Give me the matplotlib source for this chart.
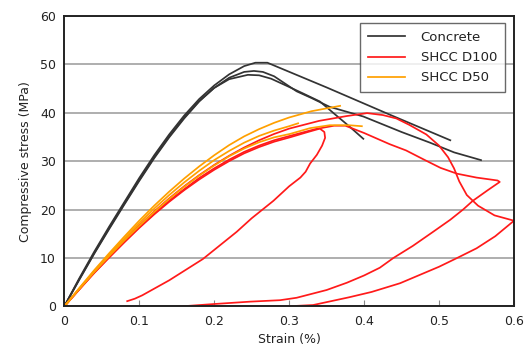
import matplotlib
matplotlib.use("Agg")
import matplotlib.pyplot as plt

# ---------------- data ----------------
conc1_x = [0, 0.02, 0.04, 0.06, 0.08, 0.1, 0.12, 0.14, 0.16, 0.18, 0.2, 0.22, 0.24, 0.255, 0.271, 0.35, 0.434, 0.515]
conc1_y = [0, 5.8, 11.3, 16.5, 21.5, 26.5, 31.2, 35.5, 39.4, 42.8, 45.6, 47.9, 49.6, 50.3, 50.3, 45.2, 39.6, 34.3]
conc2_x = [0, 0.02, 0.04, 0.06, 0.08, 0.1, 0.12, 0.14, 0.16, 0.18, 0.2, 0.22, 0.24, 0.253, 0.265, 0.28, 0.31, 0.33,
           0.354, 0.399, 0.45, 0.488, 0.52, 0.556]
conc2_y = [0, 5.5, 10.9, 16.0, 21.0, 25.9, 30.6, 34.9, 38.8, 42.3, 45.1, 47.2, 48.4, 48.6, 48.4, 47.5, 44.4, 43.0,
           41.2, 39.2, 36.0, 33.8, 31.8, 30.2]
conc3_x = [0, 0.02, 0.04, 0.06, 0.08, 0.1, 0.12, 0.14, 0.16, 0.18, 0.2, 0.22, 0.245, 0.26, 0.276, 0.3, 0.318, 0.341,
           0.36, 0.38, 0.399]
conc3_y = [0, 5.6, 11.0, 16.2, 21.2, 26.1, 30.8, 35.1, 39.0, 42.4, 45.1, 46.9, 47.8, 47.7, 47.0, 45.3, 44.0, 42.3,
           39.8, 37.2, 34.6]

d100a_x = [0, 0.02, 0.04, 0.06, 0.08, 0.1, 0.12, 0.14, 0.16, 0.18, 0.2, 0.22, 0.24, 0.26, 0.28, 0.301, 0.325, 0.341,
           0.347, 0.348, 0.344, 0.337, 0.328, 0.322, 0.315, 0.3, 0.279, 0.25, 0.23, 0.185, 0.14, 0.104, 0.094, 0.084]
d100a_y = [0, 3.5, 6.9, 10.1, 13.2, 16.2, 19.0, 21.6, 24.0, 26.2, 28.2, 30.0, 31.6, 32.9, 34.0, 34.9, 36.0, 36.7,
           36.0, 34.8, 33.2, 31.3, 29.5, 27.8, 26.6, 24.8, 21.8, 18.2, 15.4, 9.8, 5.4, 2.3, 1.6, 1.1]
d100b_x = [0, 0.02, 0.04, 0.06, 0.08, 0.1, 0.12, 0.14, 0.16, 0.18, 0.2, 0.22, 0.24, 0.26, 0.28, 0.3, 0.34, 0.377,
           0.404, 0.425, 0.443, 0.46, 0.483, 0.5, 0.512, 0.52, 0.527, 0.537, 0.552, 0.574, 0.6,
           0.575, 0.55, 0.524, 0.5, 0.448, 0.41, 0.38, 0.359, 0.332, 0.3, 0.27]
d100b_y = [0, 3.6, 7.1, 10.4, 13.6, 16.7, 19.6, 22.3, 24.8, 27.1, 29.2, 31.1, 32.8, 34.3, 35.6, 36.7, 38.3, 39.3,
           39.9, 39.5, 38.8, 37.5, 35.5, 33.2, 30.8, 28.5, 25.8, 23.0, 20.8, 18.8, 17.7,
           14.5, 12.0, 10.0, 8.2, 4.8, 3.0, 1.9, 1.2, 0.3, 0.05, 0]
d100c_x = [0, 0.02, 0.04, 0.06, 0.08, 0.1, 0.12, 0.14, 0.16, 0.18, 0.2, 0.22, 0.24, 0.26, 0.28, 0.301, 0.335, 0.36,
           0.375, 0.4, 0.434, 0.456, 0.48, 0.502, 0.524, 0.55, 0.578, 0.581, 0.565, 0.545, 0.532, 0.515, 0.492, 0.465,
           0.439, 0.421, 0.4, 0.377, 0.35, 0.31, 0.288, 0.248, 0.199, 0.163, 0.15]
d100c_y = [0, 3.5, 7.0, 10.2, 13.4, 16.4, 19.2, 21.8, 24.2, 26.5, 28.5, 30.3, 31.9, 33.2, 34.3, 35.2, 36.6, 37.3,
           37.3, 35.8, 33.5, 32.2, 30.3, 28.6, 27.4, 26.6, 26.0, 25.7, 24.0, 21.8, 20.0, 17.9, 15.4, 12.5,
           10.0, 8.0, 6.4, 4.9, 3.4, 1.8, 1.3, 1.0, 0.5, 0.1, 0]

d50a_x = [0, 0.02, 0.04, 0.06, 0.08, 0.1, 0.12, 0.14, 0.16, 0.18, 0.2, 0.22, 0.24, 0.26, 0.28, 0.3, 0.33, 0.368]
d50a_y = [0, 3.8, 7.5, 11.0, 14.4, 17.7, 20.8, 23.7, 26.4, 28.9, 31.2, 33.3, 35.1, 36.6, 37.9, 39.0, 40.3, 41.4]
d50b_x = [0, 0.02, 0.04, 0.06, 0.08, 0.1, 0.12, 0.14, 0.16, 0.18, 0.2, 0.22, 0.24, 0.26, 0.28, 0.3, 0.312]
d50b_y = [0, 3.7, 7.3, 10.7, 14.0, 17.2, 20.2, 23.0, 25.6, 28.0, 30.2, 32.1, 33.8, 35.2, 36.3, 37.2, 37.8]
d50c_x = [0, 0.02, 0.04, 0.06, 0.08, 0.1, 0.12, 0.14, 0.16, 0.18, 0.2, 0.22, 0.24, 0.26, 0.28, 0.301, 0.328, 0.354,
          0.38, 0.397]
d50c_y = [0, 3.6, 7.1, 10.4, 13.6, 16.6, 19.5, 22.2, 24.7, 27.0, 29.1, 31.0, 32.6, 33.9, 34.9, 35.6, 36.8, 37.4,
          37.4, 37.2]

x_ticks = [0, 0.1, 0.2, 0.3, 0.4, 0.5, 0.6]
x_tick_labels = ["0", "0.1", "0.2", "0.3", "0.4", "0.5", "0.6"]
y_ticks = [0, 10, 20, 30, 40, 50, 60]
series_names = ["Concrete", "SHCC D100", "SHCC D50"]

# ---------------- plot ----------------
plt.rcParams['font.family'] = ['DejaVu Sans']
fig = plt.figure(figsize=(5.31, 3.61), dpi=100)
ax = fig.add_axes([0.121, 0.151, 0.847, 0.8055])

c_black = "#333333"
c_red = "#ff1a1a"
c_orange = "#ffa000"
lw = 1.25

ax.plot(conc1_x, conc1_y, color=c_black, lw=lw, label=series_names[0])
ax.plot(conc2_x, conc2_y, color=c_black, lw=lw)
ax.plot(conc3_x, conc3_y, color=c_black, lw=lw)
ax.plot(d100a_x, d100a_y, color=c_red, lw=lw, label=series_names[1])
ax.plot(d100b_x, d100b_y, color=c_red, lw=lw)
ax.plot(d100c_x, d100c_y, color=c_red, lw=lw)
ax.plot(d50a_x, d50a_y, color=c_orange, lw=lw, label=series_names[2])
ax.plot(d50b_x, d50b_y, color=c_orange, lw=lw)
ax.plot(d50c_x, d50c_y, color=c_orange, lw=lw)

ax.set_xlim(0, 0.6)
ax.set_ylim(0, 60)
ax.set_xticks(x_ticks)
ax.set_xticklabels(x_tick_labels)
ax.set_yticks(y_ticks)
ax.yaxis.grid(True, color="#a8a8a8", lw=1.3)
ax.set_axisbelow(True)
ax.tick_params(axis='x', direction='in', length=4, width=0.8, color="#888888", labelsize=9, pad=6, labelcolor="#222222")
ax.tick_params(axis='y', direction='in', length=0, labelsize=9, pad=6, labelcolor="#222222")
for s in ax.spines.values():
    s.set_color("#222222")
    s.set_linewidth(1.4)

ax.set_xlabel("Strain (%)", fontsize=9, color="#222222", labelpad=4)
ax.set_ylabel("Compressive stress (MPa)", fontsize=9, color="#222222", labelpad=6)

leg = ax.legend(loc="upper right", bbox_to_anchor=(0.98, 0.975), borderaxespad=0, fontsize=9.5,
                frameon=True, fancybox=False, edgecolor="#444444", handlelength=2.8,
                handletextpad=1.2, borderpad=0.6, labelspacing=0.55)
leg.get_frame().set_linewidth(1.0)
for t in leg.get_texts():
    t.set_color("#222222")

fig.savefig("out.png", dpi=100)
